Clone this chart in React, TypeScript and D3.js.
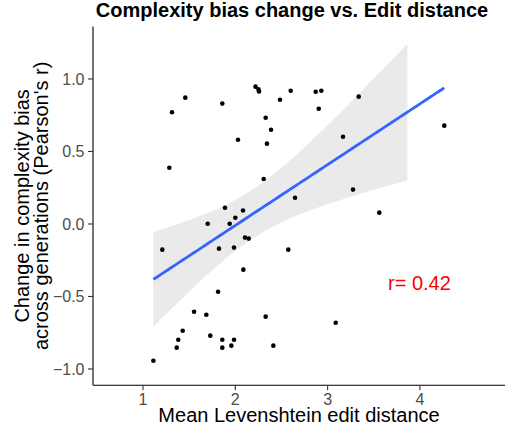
import React from "react";
import * as d3 from "d3";

// ---- Data ----
const editDistance: number[] = [
  2.219, 2.251, 2.257, 1.458, 2.600, 2.484, 1.314, 1.859, 2.329, 2.387,
  2.029, 2.343, 1.285, 2.308, 2.647, 1.888, 2.083, 2.871, 2.932, 3.337,
  2.904, 3.167, 4.264, 3.275, 1.701, 1.939, 2.000, 1.209, 1.823, 1.986,
  2.105, 2.145, 2.087, 1.813, 1.553, 1.686, 2.329, 1.430, 1.382, 1.729,
  1.859, 1.986, 1.365, 1.859, 1.957, 2.412, 1.112, 3.560, 2.574, 3.088,
];
const biasChange: number[] = [
  0.947, 0.928, 0.914, 0.871, 0.919, 0.857, 0.770, 0.830, 0.733, 0.650,
  0.581, 0.554, 0.388, 0.310, 0.181, 0.112, 0.093, 0.912, 0.919, 0.878,
  0.795, 0.602, 0.678, 0.237, 0.002, 0.002, 0.043, -0.177, -0.170, -0.163,
  -0.094, -0.101, -0.315, -0.467, -0.605, -0.626, -0.639, -0.736, -0.798, -0.770,
  -0.798, -0.798, -0.853, -0.853, -0.839, -0.839, -0.943, 0.078, -0.177, -0.681,
];
const xTicks: number[] = [1, 2, 3, 4];
const yTicks: number[] = [-1.0, -0.5, 0.0, 0.5, 1.0];
const yLimits: [number, number] = [-1, 1.25];
const xDomain: [number, number] = [0.458, 4.922];
const titleText = "Complexity bias change vs. Edit distance";
const xTitle = "Mean Levenshtein edit distance";
const yTitleLines: string[] = ["Change in complexity bias", "across generations (Pearson's r)"];
const rLabel = "r= 0.42";
const T975 = 2.0106; // t quantile, df = 48

// ---- Layout ----
const W = 505;
const H = 425;
const panel = { left: 93, right: 505, top: 26.4, bottom: 385.3 };
const FONT = "'Liberation Sans', Arial, Helvetica, sans-serif";

export default function App() {
  const ySpan = yLimits[1] - yLimits[0];
  const yDomain: [number, number] = [yLimits[0] - 0.05 * ySpan, yLimits[1] + 0.05 * ySpan];
  const x = d3.scaleLinear().domain(xDomain).range([panel.left, panel.right]);
  const y = d3.scaleLinear().domain(yDomain).range([panel.bottom, panel.top]);

  // linear fit (like geom_smooth(method = "lm"))
  const n = editDistance.length;
  const mx = d3.mean(editDistance)!;
  const my = d3.mean(biasChange)!;
  let sxx = 0, sxy = 0;
  for (let i = 0; i < n; i++) {
    sxx += (editDistance[i] - mx) ** 2;
    sxy += (editDistance[i] - mx) * (biasChange[i] - my);
  }
  const slope = sxy / sxx;
  const icpt = my - slope * mx;
  let rss = 0;
  for (let i = 0; i < n; i++) rss += (biasChange[i] - (icpt + slope * editDistance[i])) ** 2;
  const s = Math.sqrt(rss / (n - 2));
  const [xmin, xmax] = d3.extent(editDistance) as [number, number];
  const grid = d3.range(80).map((i) => xmin + ((xmax - xmin) * i) / 79);
  const fit = grid.map((gx) => {
    const fy = icpt + slope * gx;
    const se = s * Math.sqrt(1 / n + (gx - mx) ** 2 / sxx);
    return { x: gx, y: fy, lo: fy - T975 * se, hi: fy + T975 * se };
  });
  const band = fit.filter((d) => d.hi <= yLimits[1] && d.lo >= yLimits[0]);

  const area = d3
    .area<{ x: number; lo: number; hi: number }>()
    .x((d) => x(d.x))
    .y0((d) => y(d.lo))
    .y1((d) => y(d.hi));
  const line = d3
    .line<{ x: number; y: number }>()
    .x((d) => x(d.x))
    .y((d) => y(d.y));

  const yMid = (panel.top + panel.bottom) / 2;
  const xMid = (panel.left + panel.right) / 2;

  return (
    <svg width={W} height={H} style={{ position: "absolute", left: 0, top: 0 }} fontFamily={FONT}>
      <rect x={0} y={0} width={W} height={H} fill="#FFFFFF" />
      {/* ribbon */}
      <path d={area(band) || ""} fill="#EAEAEA" stroke="none" />
      {/* points */}
      {editDistance.map((ex, i) => (
        <circle key={i} cx={x(ex)} cy={y(biasChange[i])} r={2.3} fill="#000000" />
      ))}
      {/* fit line */}
      <path d={line(fit) || ""} fill="none" stroke="#3366FF" strokeWidth={2.8} />
      {/* axes */}
      <line x1={panel.left} x2={panel.left} y1={panel.top} y2={panel.bottom} stroke="#000" strokeWidth={1.1} />
      <line x1={panel.left} x2={panel.right} y1={panel.bottom} y2={panel.bottom} stroke="#000" strokeWidth={1.1} />
      {yTicks.map((t) => (
        <g key={"y" + t}>
          <line x1={panel.left - 5} x2={panel.left} y1={y(t)} y2={y(t)} stroke="#333" strokeWidth={1.1} />
          <text x={84.5} y={y(t)} dy="0.36em" textAnchor="end" fontSize={16} fill="#4D4D4D">
            {t.toFixed(1).replace("-", "\u2212")}
          </text>
        </g>
      ))}
      {xTicks.map((t) => (
        <g key={"x" + t}>
          <line x1={x(t)} x2={x(t)} y1={panel.bottom} y2={panel.bottom + 5} stroke="#333" strokeWidth={1.1} />
          <text x={x(t)} y={405} textAnchor="middle" fontSize={16} fill="#4D4D4D">
            {t}
          </text>
        </g>
      ))}
      {/* titles */}
      <text x={292} y={16.5} textAnchor="middle" fontSize={20} fontWeight="bold" fill="#000">
        {titleText}
      </text>
      <text x={xMid} y={422} textAnchor="middle" fontSize={20} fill="#000">
        {xTitle}
      </text>
      <text transform={`translate(29,${yMid}) rotate(-90)`} textAnchor="middle" fontSize={20} fill="#000">
        {yTitleLines.map((l, i) => (
          <tspan key={i} x={0} y={i * 19}>
            {l}
          </tspan>
        ))}
      </text>
      <text x={388} y={290} fontSize={20} fill="#FF0000">
        {rLabel}
      </text>
    </svg>
  );
}
